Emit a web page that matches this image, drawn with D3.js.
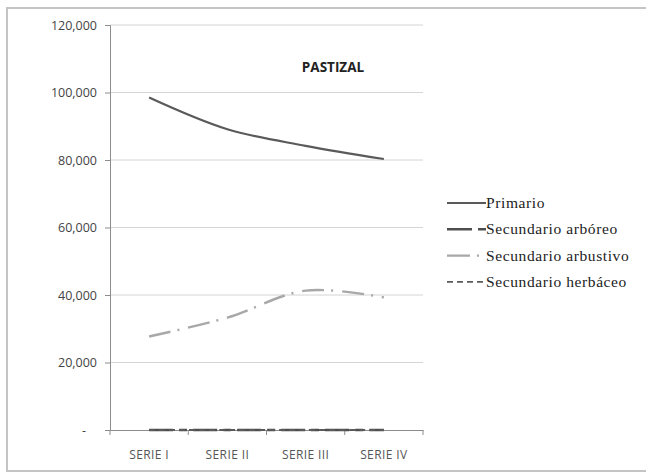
<!DOCTYPE html>
<html>
<head>
<meta charset="utf-8">
<script src="https://d3js.org/d3.v7.min.js"></script>
<style>
  body { margin: 0; background: #fff; }
</style>
</head>
<body>
<div id="graph"></div>
<script>
// data
var categories = ["SERIE I", "SERIE II", "SERIE III", "SERIE IV"];
var primario = [98500, 89100, 84200, 80300];
var sec_arboreo = [0, 0, 0, 0];
var sec_arbustivo = [27700, 33300, 41300, 39300];
var sec_herbaceo = [0, 0, 0, 0];
var y_ticks = [0, 20000, 40000, 60000, 80000, 100000, 120000];
var legend_names = ["Primario", "Secundario arbóreo", "Secundario arbustivo", "Secundario herbáceo"];

var series = [
  {name: legend_names[0], values: primario, color: "#5a5a5a", dash: null, width: 2.2},
  {name: legend_names[1], values: sec_arboreo, color: "#4e4e4e", dash: "24,6,8,6", width: 2.6},
  {name: legend_names[2], values: sec_arbustivo, color: "#a8a8a8", dash: "22,7,2,9", width: 2.4},
  {name: legend_names[3], values: sec_herbaceo, color: "#5a5a5a", dash: "6,4", width: 1.8}
];

var W = 646, H = 475;
// plot box (don't call these top/left: window.top is read-only)
var pLeft = 110, pRight = 423, pTop = 25, pBottom = 430;

var vis = d3.select("#graph")
  .append("svg")
  .attr("width", W).attr("height", H);

// outer frame
vis.append("rect")
  .attr("x", 7).attr("y", 8)
  .attr("width", W + 10).attr("height", 463)
  .attr("fill", "none").attr("stroke", "#c4c4c4").attr("stroke-width", 2);

var x = d3.scaleBand().domain(categories).range([pLeft, pRight]);
var y = d3.scaleLinear().domain([0, 120000]).range([pBottom, pTop]);

// gridlines
vis.selectAll("line.grid")
  .data(y_ticks.filter(function(d) { return d > 0; }))
  .enter()
  .append("line")
  .attr("class", "grid")
  .attr("x1", pLeft).attr("x2", pRight)
  .attr("y1", function(d) { return y(d); })
  .attr("y2", function(d) { return y(d); })
  .attr("stroke", "#d4d4d4").attr("stroke-width", 1);

// y axis
var yAxis = d3.axisLeft(y)
  .tickValues(y_ticks)
  .tickSizeOuter(0)
  .tickSize(5)
  .tickPadding(8)
  .tickFormat(function(d) { return d === 0 ? "-" : d3.format(",")(d); });

var gy = vis.append("g")
  .attr("transform", "translate(" + pLeft + ",0)")
  .call(yAxis);
gy.select(".domain").attr("stroke", "#8c8c8c");
gy.selectAll(".tick line").attr("stroke", "#8c8c8c");
gy.selectAll(".tick text")
  .attr("fill", "#444")
  .style("font-family", "'Open Sans', sans-serif")
  .style("font-size", "12.5px")
  .attr("dx", function(d) { return d === 0 ? -11 : 0; });

// x axis
var xAxis = d3.axisBottom(x).tickSize(0).tickPadding(20);
var gx = vis.append("g")
  .attr("transform", "translate(0," + pBottom + ")")
  .call(xAxis);
gx.select(".domain").attr("stroke", "#8c8c8c");
gx.selectAll(".tick text")
  .attr("fill", "#555")
  .style("font-family", "'Open Sans', sans-serif")
  .style("font-size", "12px")
  .style("letter-spacing", "0.4px");

// tick marks between categories
var bounds = categories.map(function(c) { return x(c); }).concat([pRight]);
gx.selectAll("line.sep")
  .data(bounds)
  .enter()
  .append("line")
  .attr("class", "sep")
  .attr("x1", function(d) { return d; }).attr("x2", function(d) { return d; })
  .attr("y1", 0).attr("y2", 5)
  .attr("stroke", "#8c8c8c");

// lines
var line = d3.line()
  .x(function(d, i) { return x(categories[i]) + x.bandwidth() / 2; })
  .y(function(d) { return y(d); })
  .curve(d3.curveCatmullRom.alpha(0.5));

vis.selectAll("path.series")
  .data(series)
  .enter()
  .append("path")
  .attr("class", "series")
  .attr("d", function(d) { return line(d.values); })
  .attr("fill", "none")
  .attr("stroke", function(d) { return d.color; })
  .attr("stroke-width", function(d) { return d.width; })
  .attr("stroke-dasharray", function(d) { return d.dash; });

// title
vis.append("text")
  .attr("x", 333).attr("y", 72)
  .attr("text-anchor", "middle")
  .attr("fill", "#222")
  .style("font-family", "'Open Sans', sans-serif")
  .style("font-weight", "bold")
  .style("font-size", "13.5px")
  .text("PASTIZAL");

// legend
var legend = vis.selectAll("g.legend")
  .data(series)
  .enter()
  .append("g")
  .attr("class", "legend")
  .attr("transform", function(d, i) { return "translate(447," + (203 + i * 26.3) + ")"; });

legend.append("line")
  .attr("x1", 0).attr("x2", 39)
  .attr("y1", 0).attr("y2", 0)
  .attr("stroke", function(d) { return d.color; })
  .attr("stroke-width", function(d) { return d.width; })
  .attr("stroke-dasharray", function(d, i) { return i === 1 ? "25,6,8" : i === 2 ? "23,7,2,9" : d.dash; });

legend.append("text")
  .attr("x", 39).attr("y", 5)
  .attr("fill", "#222")
  .style("font-family", "'Liberation Serif', serif")
  .style("font-size", "15.5px")
  .style("letter-spacing", "0.6px")
  .text(function(d) { return d.name; });
</script>
</body>
</html>
